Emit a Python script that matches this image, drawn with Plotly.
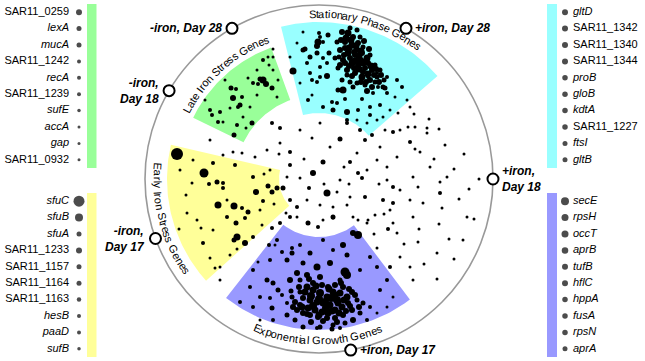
import numpy as np
import plotly.graph_objects as go

FONT = "Liberation Sans, Arial, Helvetica, sans-serif"
RING = 174  # radius of the anchor ring, in projection units

# ---------------- anchors (conditions) on the ring ----------------
anchor_text = ["+iron,<br>Day 18", "+iron, Day 28", "-iron, Day 28",
               "-iron,<br>Day 18", "-iron,<br>Day 17", "+iron, Day 17"]
anchor_angle = [0, 60, 120, 149.5, 200, 280.5]

# ---------------- gene clusters ----------------
cluster_names = ["Stationary Phase Genes", "Late Iron Stress Genes",
                 "Early Iron Stress Genes", "Exponential Growth Genes"]
cluster_colors = ["#99ffff", "#99ff99", "#ffff99", "#9999ff"]
sector_theta = [(41, 104), (110, 154), (167, 222), (232, 307)]
sector_r = [(66, 157), (84, 140), (40, 152), (58, 151)]

# ---------------- projected gene positions (x, y) and dot size ----------------
stat_x = [-26, -14, -2, 0, 9, 10, 8, 19, 24, 28, 14, 48, 66, 78, 83, 51, 61, 49, -22, -29, -19, -7, 34, 38,
          -16, -1, -9, -2, 4, -7, 1, -11, 4, -16,
          23, 29, 34, 26, 33, 39, 21, 29, 36, 43, 48, 24, 33, 39, 46, 53, 28, 36, 43, 51, 58, 38, 46, 18,
          16, 19, 56, 51, 31, 38, 41, 44, 23, 31, 59, 54,
          1, 4, -12, 1, -9, -2, 8, 13, 18, 26, 43, 39, 28, 51, 68, 76, 71, 64, 48, 58, 68, 26, 41, 31, 38,
          49, 44, 21, 35, 56, 61, 65,
          27, 32, 37, 30, 42, 35, 47, 40, 44, 52, 30, 25, 49, 55, 40, 33, 47, 53, 60, 36, 26, 22, 45, 50,
          62, 57, 42, 28, 20, 64]
stat_y = [108, 130, 133, 146, 144, 126, 103, 89, 89, 67, 69, 88, 91, 99, 92, 64, 74, 102, 136, 122, 96, 84, 92, 59,
          129, 137, 122, 126, 121, 99, 102, 79, 72, 147,
          147, 146, 142, 137, 134, 136, 129, 126, 124, 126, 121, 119, 116, 114, 111, 109, 109, 106, 102, 99,
          102, 96, 94, 137, 121, 111, 114, 124, 151, 149, 142, 132, 99, 97, 92, 86,
          142, 137, 116, 112, 106, 97, 116, 77, 76, 80, 80, 69, 59, 72, 86, 82, 69, 62, 56, 106, 102, 131,
          119, 121, 129, 116, 107, 114, 111, 97, 109, 99,
          141, 139, 133, 131, 128, 127, 118, 123, 116, 113, 113, 124, 105, 104, 110, 103, 97, 92, 97, 118,
          116, 139, 138, 130, 104, 110, 97, 104, 122, 92]
stat_s = [6, 4, 5, 3, 4, 4, 5, 4, 6, 5, 4, 5, 4, 3, 3, 3, 3, 3, 2, 2, 2, 2, 4, 2,
          4, 6, 4, 4, 3, 3, 3, 3, 3, 2,
          5, 6, 5, 5, 6, 5, 5, 6, 5, 5, 6, 5, 6, 5, 5, 5, 5, 5, 6, 5, 4, 4, 4, 4, 4, 4, 4, 4, 4, 4, 4, 4,
          4, 4, 3, 3,
          3, 3, 3, 3, 3, 3, 3, 3, 3, 3, 3, 3, 3, 3, 3, 2, 2, 2, 2, 3, 3, 5, 6, 5, 5, 5, 5, 5, 5, 4, 4, 4,
          6, 6, 6, 6, 6, 5, 6, 6, 6, 6, 5, 5, 6, 5, 6, 5, 5, 5, 5, 6, 5, 5, 5, 5, 5, 5, 5, 4, 4, 4]

late_x = [-56, -53, -59, -66, -61, -47, -86, -88, -83, -77, -79, -81, -82, -85, -99, -109, -101, -107, -76,
          -69, -67, -56, -51, -46, -50, -46, -62, -71, -89, -46, -41, -42, -96, -62, -114, -94, -73]
late_y = [99, 95, 100, 96, 95, 91, 81, 91, 90, 82, 74, 72, 54, 44, 67, 69, 57, 64, 62,
          72, 56, 119, 122, 122, 114, 109, 109, 101, 71, 130, 99, 82, 57, 84, 79, 99, 51]
late_s = [6, 5, 4, 3, 3, 4, 5, 4, 3, 3, 4, 3, 3, 4, 3, 3, 3, 3, 2,
          2, 4, 3, 2, 2, 2, 2, 2, 2, 2, 2, 2, 2, 2, 2, 2, 2, 2]

early_x = [-142, -115, -102, -110, -96, -127, -101, -85, -63, -51, -47, -42, -56, -71, -77, -92, -83, -82,
           -85, -74, -66, -116, -109, -99, -122, -132, -118, -126, -139, -106, -84, -66, -96, -74, -92,
           -59, -133, -89, -82, -106, -57, -49, -140]
early_y = [25, 6, -3, -5, -4, -4, -26, -27, -13, -7, -13, -9, -22, -33, -29, -38, -44, -58,
           -61, -64, -58, -64, -79, -88, -41, -34, -49, 19, 9, 16, 14, 2, -9, -39, -21,
           -31, -16, -76, -70, -51, -46, 9, -50]
early_s = [11, 8, 4, 3, 3, 2, 6, 6, 5, 4, 4, 4, 3, 4, 3, 3, 4, 6,
           4, 5, 3, 3, 2, 2, 2, 2, 2, 2, 2, 3, 3, 3, 3, 3, 2,
           2, 2, 2, 2, 2, 2, 2, 2]

expo_x = [39, 34, 24, 28, 11, -2, -9, -19, -27, -32, -16, -27, -37, -49, -50, -42, 4, 14, -66, -69, -79,
          -52, -46, -41, -37, -49, -59, -66, -47, -32, -29, -19, -22, -12, 1, 9, 26, 28, 41, 51, 58, 68,
          61, 74, 44, 51, 41, 34, 48, -32, -24, -46, -59, -16, 1, 14, 26, 58, 68,
          -12, -6, 1, 8, 14, 21, 28, 18, 11, 4, -2, -9, -16, -19, -11, -4, 3, 9, 16, 23, 29, 33, 24, 16,
          8, -1, -9, -16, -22, -24, -6, 3, 16, 24, 33, -19, -27, 38, 21, 13, -2, 21,
          -14, -8, 0, 6, 12, 19, 25, 31, -17, -6, 7, 13, 20, -12, 0, 27, -20, 16, 10, -3, 36, 40, -26,
          -28, 4, 18, -8, 30, 22, -10]
expo_y = [-56, -54, -66, -76, -84, -88, -74, -66, -74, -81, -84, -69, -73, -81, -66, -61, -61, -71, -91, -108,
          -123, -101, -104, -111, -116, -119, -118, -128, -129, -124, -101, -101, -94, -96, -98, -108, -93,
          -96, -91, -78, -88, -101, -111, -118, -124, -128, -134, -141, -141, -136, -141, -141, -141, -148,
          -148, -146, -144, -134, -128,
          -108, -111, -114, -118, -113, -114, -118, -121, -126, -124, -123, -121, -119, -126, -129, -131,
          -133, -134, -131, -128, -124, -131, -136, -139, -139, -138, -136, -134, -131, -123, -104, -106,
          -106, -108, -113, -113, -118, -121, -101, -150, -149, -149,
          -113, -117, -120, -123, -119, -124, -121, -127, -128, -127, -129, -132, -134, -135, -136, -132,
          -108, -116, -110, -107, -116, -128, -128, -112, -142, -143, -143, -110, -104, -100]
expo_s = [7, 5, 5, 4, 5, 6, 4, 3, 4, 4, 4, 3, 3, 3, 3, 3, 3, 3, 3, 3, 3,
          4, 4, 4, 3, 3, 3, 3, 4, 3, 5, 4, 5, 5, 5, 5, 8, 7, 3, 3, 3, 3,
          3, 2, 4, 3, 4, 5, 3, 4, 4, 3, 2, 4, 4, 4, 4, 2, 2,
          6, 6, 7, 6, 6, 6, 6, 7, 6, 6, 6, 6, 5, 5, 6, 6, 6, 6, 6, 6, 5, 5, 5, 5,
          5, 5, 5, 5, 5, 5, 5, 5, 5, 5, 5, 4, 4, 4, 4, 4, 3, 3,
          6, 7, 7, 7, 7, 6, 6, 5, 6, 7, 7, 6, 6, 5, 6, 5, 5, 6, 6, 6, 5, 5, 5, 4, 5, 5, 5, 5, 5, 5]

other_x = [21, 8, -6, 4, 31, -10, 14, -11, -1, -22, -47, -39, -29, -29, -39, -47, -22, 28, 41, 46, 53, 91,
           74, 81, 89, 108, 126, 101, 61, 78, 43, 46, 64, 74, 81, 91, 104, 121, 128, 123, 94, 68, 21, 31,
           18, 34, 48, 74, 94, 148, 11, -7, 1, -19, -39, -52, -64, -86, -109, -32, -19, -12, 1, 14, 28,
           58, 48, 38, 68, 111, 39, 74, 99, 69, 78, 99, 81, 71, 94, 91, 121, 144, 4, 14, 39, 49, 56, 71,
           58, 118, 91, 79, 96, 108, 66, 58, 88, -36, -29, -33, -44, -99, -104, -61, -96, -77, -29,
           96, 115, 135, 140, 120, 100, 85, 105, 130, 150, 60, 25, -15, -40, -55, -45, 5, 30, 55, 65,
           110, 95, 120, 145, 160, 155, 135, 118]
other_y = [40, -14, 6, 17, 17, -9, -38, -44, -48, -28, 56, 51, 14, -38, -44, -49, -38, 56, 49, 39, 44, 37,
           47, 49, 52, 46, 34, 27, 32, 22, 1, -18, -21, -24, -11, -21, -24, -14, 2, -29, 2, -1, -1, -18,
           -13, -38, -44, -44, -38, -38, 32, 41, 56, 49, 36, 29, 22, 27, 39, 2, 1, -21, -26, -28, -26,
           19, 9, 26, 12, 12, 6, -8, -8, -50, -54, -63, -78, -88, -101, -88, -3, -61, -41, -39, -41, -41,
           -36, -31, -69, -74, 72, 66, 52, 51, 49, 59, 79, -9, -21, -34, -66, -101, -89, -83, 24, 26, 27,
           30, 20, 10, -20, -45, -50, -65, -85, -60, -10, -5, 12, 20, 25, 5, -25, -5, -5, -55, -35,
           60, 65, 50, 25, 0, -40, -80, -100]
other_s = [4, 6, 5, 4, 3, 3, 4, 4, 3, 3, 3, 3, 3, 3, 3, 3, 2, 3, 3, 3, 3, 3,
           3, 2, 2, 2, 2, 2, 2, 2, 3, 3, 3, 3, 2, 2, 2, 3, 2, 2, 2, 2, 2, 2,
           2, 2, 2, 2, 2, 2, 2, 2, 2, 2, 2, 2, 2, 2, 2, 2, 2, 2, 2, 2, 2,
           2, 2, 2, 2, 2, 3, 3, 2, 3, 2, 2, 2, 3, 2, 2, 2, 2, 2, 2, 2, 2,
           2, 2, 2, 2, 2, 2, 2, 2, 2, 2, 2, 4, 3, 2, 2, 2, 2, 2, 2, 2, 3,
           2, 2, 2, 2, 2, 2, 2, 2, 2, 2, 2, 2, 2, 2, 2, 2, 2, 2, 2, 2,
           2, 2, 2, 2, 2, 2, 2, 2]

# ---------------- top-10 genes per cluster ----------------
late_genes = ["SAR11_0259", "lexA", "mucA", "SAR11_1242", "recA", "SAR11_1239", "sufE", "accA", "gap", "SAR11_0932"]
late_gene_size = [6, 5, 5, 4, 4, 4, 3.5, 3, 3, 3]
early_genes = ["sfuC", "sfuB", "sfuA", "SAR11_1233", "SAR11_1157", "SAR11_1164", "SAR11_1163", "hesB", "paaD", "sufB"]
early_gene_size = [11, 8, 5, 6, 5, 5, 4.5, 4, 4, 3.5]
stat_genes = ["gltD", "SAR11_1342", "SAR11_1340", "SAR11_1344", "proB", "gloB", "kdtA", "SAR11_1227", "ftsI", "gltB"]
stat_gene_size = [6, 6, 6, 6, 5.5, 5.5, 5.5, 5.5, 5, 5]
expo_genes = ["secE", "rpsH", "occT", "aprB", "tufB", "hflC", "hppA", "fusA", "rpsN", "aprA"]
expo_gene_size = [8, 7, 7, 6.5, 6, 6, 5.5, 5.5, 5.5, 5]

DOT_PAD = 1.0  # extra rendered diameter for crisp tiny dots

fig = go.Figure()

# circle outline
fig.add_shape(type="circle", xref="x", yref="y", x0=-RING, y0=-RING, x1=RING, y1=RING,
              line=dict(color="#999999", width=1.6), layer="below")

# cluster sectors
for (t0, t1), (r0, r1), col in zip(sector_theta, sector_r, cluster_colors):
    th = np.radians(np.linspace(t0, t1, 60))
    xs = np.concatenate([r1 * np.cos(th), r0 * np.cos(th[::-1])])
    ys = np.concatenate([r1 * np.sin(th), r0 * np.sin(th[::-1])])
    fig.add_trace(go.Scatter(x=xs, y=ys, mode="lines", fill="toself", fillcolor=col,
                             line=dict(width=0, color=col), hoverinfo="skip"))

# gene dots
for gx, gy, gs in [(other_x, other_y, other_s), (late_x, late_y, late_s), (early_x, early_y, early_s),
                   (stat_x, stat_y, stat_s), (expo_x, expo_y, expo_s)]:
    fig.add_trace(go.Scatter(x=gx, y=gy, mode="markers",
                             marker=dict(size=np.array(gs) + DOT_PAD, color="black", opacity=1,
                                         line=dict(width=0))))

# anchors
aa = np.radians(anchor_angle)
ax_x = RING * np.cos(aa)
ax_y = RING * np.sin(aa)
fig.add_trace(go.Scatter(x=ax_x, y=ax_y, mode="markers", cliponaxis=False,
                         marker=dict(size=11, color="white", line=dict(color="black", width=2))))

annotations = []
for txt, x, y, ang in zip(anchor_text, ax_x, ax_y, anchor_angle):
    right_side = np.cos(np.radians(ang)) > 0.3 or ang == 280.5
    annotations.append(dict(x=x, y=y, xref="x", yref="y", text=txt, showarrow=False,
                            xanchor="left" if right_side else "right",
                            align="left" if right_side else "right",
                            xshift=7 if right_side else -8, yanchor="middle",
                            font=dict(family=FONT, size=12, color="black", weight="bold", style="italic")))

# curved cluster labels
CW = {" ": 278, "E": 667, "G": 778, "I": 278, "L": 556, "P": 667, "S": 667, "a": 556, "c": 500,
      "e": 556, "h": 556, "i": 222, "l": 222, "n": 556, "o": 556, "p": 556, "r": 333, "s": 500,
      "t": 278, "w": 722, "x": 500, "y": 500}
label_center = [73, 131.5, 195, 269.5]
label_r = [165.5, 149, 161.5, 161.5]
label_outward = [True, True, False, False]
for name, c, r, out in zip(cluster_names, label_center, label_r, label_outward):
    w = np.array([CW.get(ch, 556) for ch in name]) * 11 / 1000.0
    off = np.cumsum(w) - w / 2 - w.sum() / 2
    for ch, s in zip(name, off):
        if ch == " ":
            continue
        if out:
            th = c - np.degrees(s / r)
            rot = 90 - th
        else:
            th = c + np.degrees(s / r)
            rot = 270 - th
        annotations.append(dict(x=r * np.cos(np.radians(th)), y=r * np.sin(np.radians(th)),
                                xref="x", yref="y", text=ch, showarrow=False, textangle=rot,
                                xanchor="center", yanchor="middle",
                                font=dict(family=FONT, size=11, color="black")))

# side panels with top genes
def fmt(g):
    return g if g.startswith("SAR11") else "<i>" + g + "</i>"

panels = [
    (late_genes, late_gene_size, cluster_colors[1], 2, "left", "top"),
    (early_genes, early_gene_size, cluster_colors[2], 3, "left", "bottom"),
    (stat_genes, stat_gene_size, cluster_colors[0], 4, "right", "top"),
    (expo_genes, expo_gene_size, cluster_colors[3], 5, "right", "bottom"),
]
shapes = []
layout_axes = {}
for genes, sizes, col, k, side, pos in panels:
    xa, ya = "x%d" % k, "y%d" % k
    if side == "left":
        dom = [0, 100 / 645]
        bar = (87, 96.5)
        dot_x, txt_x, tpos = 79, 69, "middle left"
    else:
        dom = [530 / 645, 1]
        bar = (17, 27)
        dot_x, txt_x, tpos = 35, 43, "middle right"
    ydom = [1 - 168 / 361, 1 - 4 / 361] if pos == "top" else [1 - 357 / 361, 1 - 193 / 361]
    layout_axes["xaxis%d" % k] = dict(domain=dom, range=[0, dom[1] * 645 - dom[0] * 645], visible=False,
                                      anchor=ya, fixedrange=True)
    layout_axes["yaxis%d" % k] = dict(domain=ydom, type="category", categoryorder="array",
                                      categoryarray=genes, range=[9.5, -0.5], visible=False,
                                      anchor=xa, fixedrange=True)
    shapes.append(dict(type="rect", xref=xa, yref=ya + " domain", x0=bar[0], x1=bar[1], y0=0, y1=1,
                       fillcolor=col, line=dict(width=0), layer="below"))
    fig.add_trace(go.Scatter(x=[dot_x] * len(genes), y=genes, xaxis=xa, yaxis=ya, mode="markers",
                             marker=dict(size=sizes, color="black", line=dict(width=0))))
    fig.add_trace(go.Scatter(x=[txt_x] * len(genes), y=genes, xaxis=xa, yaxis=ya, mode="text",
                             text=[fmt(g) for g in genes], textposition=tpos,
                             textfont=dict(family=FONT, size=11, color="black")))

fig.layout.shapes = list(fig.layout.shapes) + shapes
fig.update_layout(
    width=645, height=361, margin=dict(l=0, r=0, t=0, b=0),
    paper_bgcolor="white", plot_bgcolor="rgba(0,0,0,0)", showlegend=False,
    xaxis=dict(domain=[0, 1], range=[-319, 326], visible=False, fixedrange=True),
    yaxis=dict(domain=[0, 1], range=[-182, 179], visible=False, fixedrange=True),
    annotations=annotations,
    **layout_axes,
)
fig.write_html("out.html", config={"displayModeBar": False},
               post_script="document.body.style.margin='0';document.body.style.padding='0';")
